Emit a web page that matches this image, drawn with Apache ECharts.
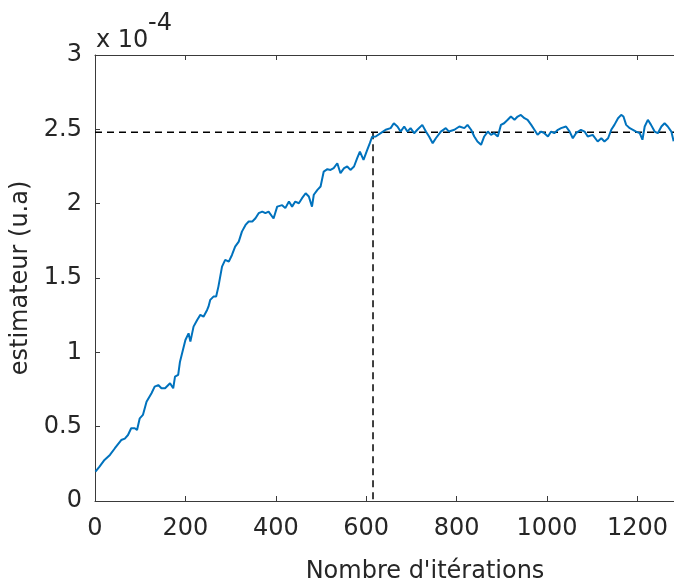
<!DOCTYPE html>
<html>
<head>
<meta charset="utf-8">
<script src="https://cdn.jsdelivr.net/npm/echarts@6/dist/echarts.min.js"></script>
<style>html,body{margin:0;padding:0;background:#fff;width:674px;height:584px;overflow:hidden;}#c{width:760px;height:584px;}</style>
</head>
<body>
<div id="c"></div>
<script>
// Data (estimator values in units of 1e-4)
const iterations = [1,10,21,33,44,58,66,73,80,88,93,99,106,114,118,125,132,140,147,155,166,173,177,184,188,200,207,211,218,226,233,240,248,251,255,262,268,273,281,288,296,303,310,318,325,333,340,348,355,362,370,377,384,388,395,403,414,421,429,436,443,451,458,466,473,480,484,492,499,506,514,521,528,536,543,551,558,565,573,580,586,594,602,608,613,621,632,643,654,661,669,676,684,691,698,706,713,724,732,739,747,754,765,776,783,795,806,817,824,832,839,846,854,861,869,876,883,891,898,905,913,920,928,935,942,950,957,965,972,979,987,994,1002,1009,1016,1024,1031,1042,1050,1057,1064,1075,1083,1090,1101,1112,1120,1127,1135,1142,1149,1157,1164,1169,1175,1183,1190,1197,1205,1211,1216,1223,1230,1238,1245,1253,1260,1267,1275,1280];
const estimator = [0.197,0.231,0.276,0.31,0.355,0.41,0.42,0.444,0.489,0.489,0.478,0.556,0.579,0.668,0.657,0.725,0.769,0.78,0.758,0.758,0.792,0.758,0.836,0.848,0.937,1.083,1.128,1.072,1.173,1.218,1.252,1.24,1.285,1.307,1.353,1.375,1.375,1.442,1.577,1.622,1.61,1.655,1.711,1.745,1.812,1.857,1.88,1.88,1.902,1.936,1.947,1.936,1.947,1.958,1.90,1.98,1.99,1.97,2.014,1.98,2.014,2.003,2.037,2.07,2.048,1.98,2.06,2.093,2.115,2.216,2.232,2.227,2.239,2.272,2.205,2.239,2.25,2.227,2.25,2.306,2.35,2.295,2.36,2.407,2.45,2.452,2.474,2.497,2.508,2.541,2.519,2.485,2.519,2.485,2.508,2.474,2.497,2.53,2.485,2.452,2.407,2.44,2.485,2.508,2.485,2.497,2.519,2.508,2.53,2.497,2.452,2.418,2.396,2.452,2.485,2.463,2.474,2.452,2.53,2.541,2.564,2.586,2.564,2.586,2.597,2.575,2.564,2.53,2.497,2.463,2.485,2.474,2.452,2.485,2.474,2.497,2.508,2.519,2.485,2.44,2.474,2.497,2.485,2.452,2.463,2.418,2.44,2.418,2.44,2.497,2.53,2.575,2.597,2.586,2.53,2.508,2.497,2.485,2.474,2.43,2.519,2.564,2.53,2.485,2.474,2.519,2.541,2.519,2.485,2.42];
const convergenceIter = 615;
const convergenceValue = 2.48;
const xLimits = [0, 1460];
const yLimits = [0, 3];
const xTitle = "Nombre d'itérations";
const yTitle = "estimateur (u.a)";
const exponentBase = "x 10";
const exponentPower = "-4";

const lineData = iterations.map((x, i) => [x, estimator[i]]);
const hLine = [[xLimits[0], convergenceValue], [xLimits[1], convergenceValue]];
const vLine = [[convergenceIter, convergenceValue], [convergenceIter, yLimits[0]]];

const txt = '#262626';
const axisCol = '#3a3a3a';
const font = 'DejaVu Sans';

const chart = echarts.init(document.getElementById('c'), null, {renderer: 'canvas'});
const baseX = {
  type: 'value', min: xLimits[0], max: xLimits[1], interval: 200,
  axisLine: {show: true, onZero: false, lineStyle: {color: axisCol, width: 1}},
  axisTick: {show: true, inside: true, length: 5, lineStyle: {color: axisCol}},
  splitLine: {show: false}
};
const baseY = {
  type: 'value', min: yLimits[0], max: yLimits[1], interval: 0.5,
  axisLine: {show: true, onZero: false, lineStyle: {color: axisCol, width: 1}},
  axisTick: {show: true, inside: true, length: 5, lineStyle: {color: axisCol}},
  splitLine: {show: false}
};
chart.setOption({
  animation: false,
  backgroundColor: '#fff',
  grid: {left: 95, right: 5, top: 55, bottom: 83, containLabel: false, outerBoundsMode: 'none'},
  xAxis: [
    Object.assign({}, baseX, {
      position: 'bottom',
      axisLabel: {show: true, margin: 16, color: txt, fontFamily: font, fontSize: 24, showMaxLabel: false,
        formatter: v => String(v)},
      name: xTitle, nameLocation: 'middle', nameGap: 59,
      nameTextStyle: {color: txt, fontFamily: font, fontSize: 24}
    }),
    Object.assign({}, baseX, {position: 'top', axisLabel: {show: false}})
  ],
  yAxis: [
    Object.assign({}, baseY, {
      position: 'left',
      axisLabel: {show: true, margin: 13, color: txt, fontFamily: font, fontSize: 24},
      name: yTitle, nameLocation: 'middle', nameGap: 55, nameRotate: 90,
      nameTextStyle: {color: txt, fontFamily: font, fontSize: 24}
    }),
    Object.assign({}, baseY, {position: 'right', axisLabel: {show: false}})
  ],
  graphic: [
    {type: 'text', left: 96, top: 29, style: {text: exponentBase, fill: txt, font: '24px "DejaVu Sans"'}},
    {type: 'text', left: 148, top: 12, style: {text: exponentPower, fill: txt, font: '24px "DejaVu Sans"'}}
  ],
  series: [
    {type: 'line', data: hLine, symbol: 'none', silent: true, z: 1,
      lineStyle: {color: '#000', width: 1.5, type: [7, 5]}},
    {type: 'line', data: vLine, symbol: 'none', silent: true, z: 1,
      lineStyle: {color: '#000', width: 1.5, type: [7, 5]}},
    {type: 'line', data: lineData, symbol: 'none', z: 2,
      lineStyle: {color: '#0072BD', width: 2}}
  ]
});
</script>
</body>
</html>
